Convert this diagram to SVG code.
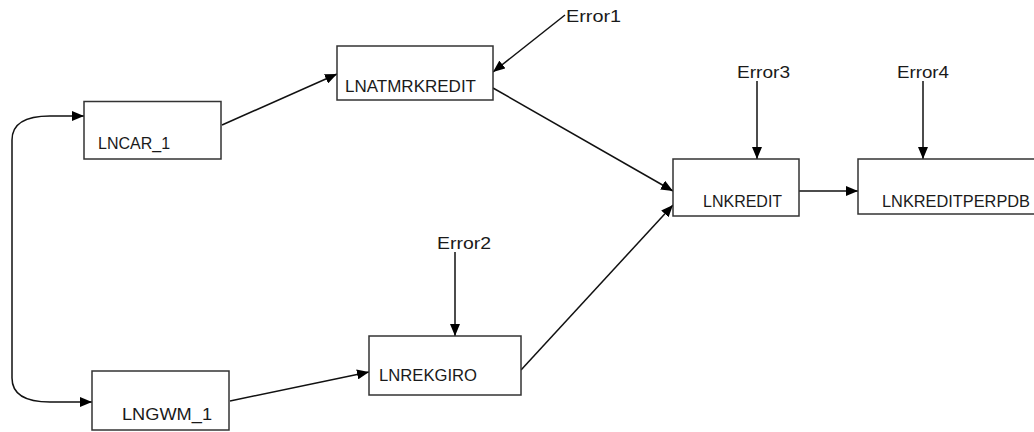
<svg xmlns="http://www.w3.org/2000/svg" width="1034" height="432" viewBox="0 0 1034 432">
<style>
.box{fill:#fff;stroke:#333;stroke-width:1.5}
.lbl{font-family:"Liberation Sans",Arial,sans-serif;font-size:16px;fill:#1a1a1a}
.con{fill:none;stroke:#111;stroke-width:1.5}
</style>
<defs>
<marker id="ah" viewBox="0 0 12 10" refX="12" refY="5" markerWidth="12" markerHeight="10" markerUnits="userSpaceOnUse" orient="auto-start-reverse">
<path d="M0,0 L12,5 L0,10 z" fill="#000"/>
</marker>
</defs>
<rect width="1034" height="432" fill="#fff"/>
<g id="connectors">
<path class="con" d="M84,116 L50,116 Q12,116 12,140 L12,378 Q12,402 50,402 L92,402" marker-start="url(#ah)" marker-end="url(#ah)"/>
<line class="con" x1="222" y1="125" x2="337" y2="74" marker-end="url(#ah)"/>
<line class="con" x1="565" y1="15" x2="493" y2="72" marker-end="url(#ah)"/>
<line class="con" x1="493" y1="88" x2="673" y2="191" marker-end="url(#ah)"/>
<line class="con" x1="230" y1="401" x2="369" y2="372" marker-end="url(#ah)"/>
<line class="con" x1="455" y1="252" x2="455" y2="336" marker-end="url(#ah)"/>
<line class="con" x1="521" y1="370" x2="673" y2="205" marker-end="url(#ah)"/>
<line class="con" x1="757" y1="81" x2="757" y2="159" marker-end="url(#ah)"/>
<line class="con" x1="799" y1="191" x2="858" y2="191" marker-end="url(#ah)"/>
<line class="con" x1="923" y1="81" x2="923" y2="159" marker-end="url(#ah)"/>
</g>
<g id="LNCAR_1">
<rect class="box" x="84" y="101.5" width="137" height="57.5"/>
<text class="lbl" x="98" y="149">LNCAR_1</text>
</g>
<g id="LNGWM_1">
<rect class="box" x="92" y="371" width="137" height="59"/>
<text class="lbl" x="122" y="420" textLength="90" lengthAdjust="spacingAndGlyphs">LNGWM_1</text>
</g>
<g id="LNATMRKREDIT">
<rect class="box" x="337" y="46" width="156" height="54"/>
<text class="lbl" x="345" y="92" textLength="131" lengthAdjust="spacingAndGlyphs">LNATMRKREDIT</text>
</g>
<g id="LNREKGIRO">
<rect class="box" x="369" y="336" width="152" height="59"/>
<text class="lbl" x="379" y="381" textLength="98" lengthAdjust="spacingAndGlyphs">LNREKGIRO</text>
</g>
<g id="LNKREDIT">
<rect class="box" x="673" y="159" width="126" height="57"/>
<text class="lbl" x="703" y="207">LNKREDIT</text>
</g>
<g id="LNKREDITPERPDB">
<rect class="box" x="858" y="159" width="190" height="55"/>
<text class="lbl" x="882" y="207" textLength="148" lengthAdjust="spacingAndGlyphs">LNKREDITPERPDB</text>
</g>
<g id="Error1"><text class="lbl" x="566" y="22" textLength="55" lengthAdjust="spacingAndGlyphs">Error1</text></g>
<g id="Error2"><text class="lbl" x="437" y="249" textLength="54" lengthAdjust="spacingAndGlyphs">Error2</text></g>
<g id="Error3"><text class="lbl" x="737" y="78" textLength="53" lengthAdjust="spacingAndGlyphs">Error3</text></g>
<g id="Error4"><text class="lbl" x="897" y="78" textLength="52" lengthAdjust="spacingAndGlyphs">Error4</text></g>
</svg>
